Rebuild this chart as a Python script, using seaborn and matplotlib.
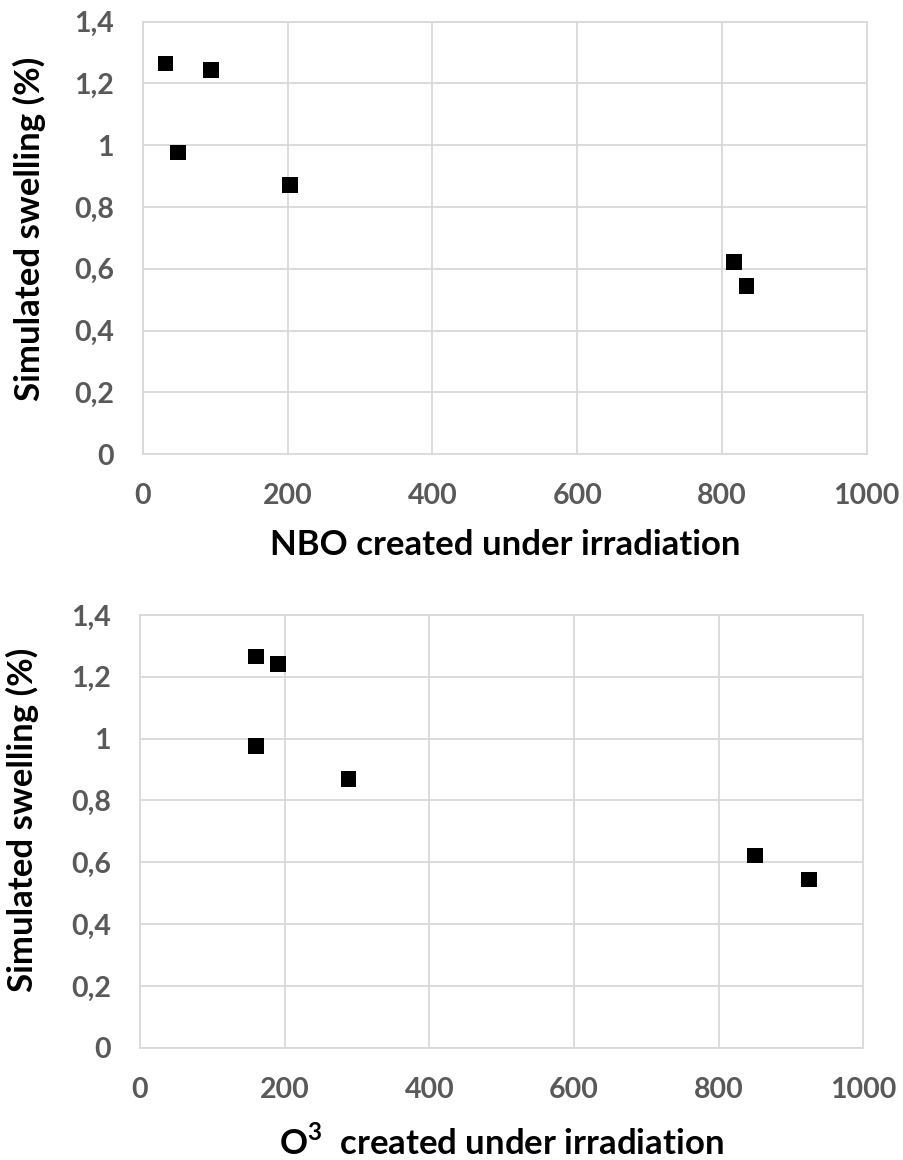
"""
Simulated swelling versus defects created under irradiation.
Two stacked scatter panels, Excel-like styling.
"""

import matplotlib
matplotlib.use("Agg")
import pandas as pd
import matplotlib.pyplot as plt
import seaborn as sns

# values
nbo_created = [31, 48, 94, 203, 817, 834]
o3_created = [160, 160, 191, 288, 850, 925]
swelling = [1.264, 0.977, 1.243, 0.871, 0.622, 0.544]
swelling_o3 = [1.265, 0.976, 1.241, 0.869, 0.622, 0.544]

x_ticks = [0, 200, 400, 600, 800, 1000]
y_ticks = [0, 0.2, 0.4, 0.6, 0.8, 1.0, 1.2, 1.4]
y_tick_labels = ["0", "0,2", "0,4", "0,6", "0,8", "1", "1,2", "1,4"]

sns.set_style("whitegrid")
plt.rcParams['font.family'] = ['Lato', 'DejaVu Sans']
plt.rcParams['mathtext.fontset'] = 'custom'
plt.rcParams['mathtext.bf'] = 'Lato:bold'
plt.rcParams['mathtext.rm'] = 'Lato'

GRID = "#d9d9d9"
TICK = "#595959"


def style_axis(ax, xlabel, xlab_y, ylab_pos):
    ax.set_xlim(0, 1000)
    ax.set_ylim(0, 1.4)
    ax.set_xticks(x_ticks)
    ax.set_xticklabels([str(t) for t in x_ticks])
    ax.set_yticks(y_ticks)
    ax.set_yticklabels(y_tick_labels)
    ax.tick_params(axis='x', length=0, pad=21, labelsize=20.5,
                   labelcolor=TICK)
    ax.tick_params(axis='y', length=0, pad=21, labelsize=20.5,
                   labelcolor=TICK)
    for lbl in ax.get_xticklabels() + ax.get_yticklabels():
        lbl.set_fontweight('bold')
    ax.grid(True, color=GRID, linewidth=1.3)
    for side in ax.spines.values():
        side.set_color(GRID)
        side.set_linewidth(1.3)
    ax.set_xlabel(xlabel, fontsize=25, fontweight='bold', color='black',
                  va='center')
    ax.set_ylabel("Simulated swelling (%)", fontsize=25, fontweight='bold',
                  color='black', va='center')
    ax.xaxis.set_label_coords(0.5, xlab_y)
    ax.yaxis.set_label_coords(*ylab_pos)


fig = plt.figure(figsize=(9.04, 11.6), dpi=100)
ax1 = fig.add_axes([0.1582, 0.6086, 0.8005, 0.3727])
ax2 = fig.add_axes([0.1549, 0.0966, 0.8001, 0.3733])

top = pd.DataFrame({'x': nbo_created, 'y': swelling})
bottom = pd.DataFrame({'x': o3_created, 'y': swelling_o3})

sns.scatterplot(data=top, x='x', y='y', ax=ax1, marker='s', s=125,
                color='black', edgecolor='none', zorder=3)
sns.scatterplot(data=bottom, x='x', y='y', ax=ax2, marker='s', s=125,
                color='black', edgecolor='none', zorder=3)

style_axis(ax1, "NBO created under irradiation", -0.21, (-0.1575, 0.52))
style_axis(ax2, r"O$^{\mathbf{3}}$  created under irradiation", -0.217,
           (-0.163, 0.527))

fig.savefig('out.png', dpi=100)
